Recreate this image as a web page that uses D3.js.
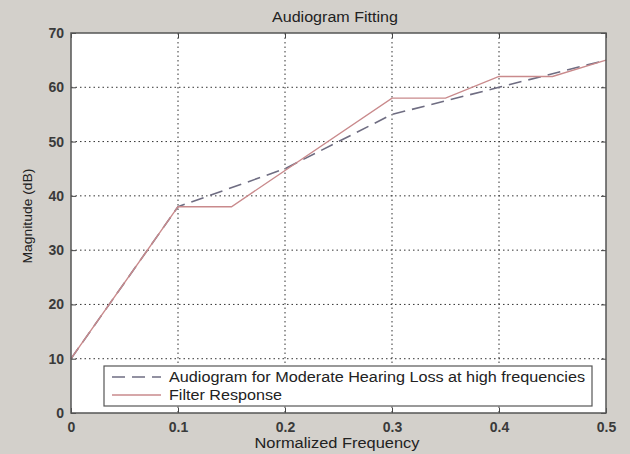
<!DOCTYPE html>
<html>
<head>
<meta charset="utf-8">
<script src="https://cdn.jsdelivr.net/npm/d3@7"></script>
<style>
  body { margin: 0; background: #d3d0cb; }
  svg { display: block; font-family: "Liberation Sans", Arial, sans-serif; }
</style>
</head>
<body>
<div id="chart"></div>
<script>
const xTicks = [0, 0.1, 0.2, 0.3, 0.4, 0.5];
const yTicks = [0, 10, 20, 30, 40, 50, 60, 70];

const audiogramFreq = [0, 0.1, 0.2, 0.3, 0.4, 0.5];
const audiogramDb = [10, 38, 45, 55, 60, 65];

const filterFreq = [0, 0.1, 0.15, 0.3, 0.35, 0.4, 0.45, 0.5];
const filterDb = [10, 38, 38, 58, 58, 62, 62, 65];

const seriesNames = ["Audiogram for Moderate Hearing Loss at high frequencies", "Filter Response"];

const W = 630, H = 454;
const margin = { top: 33, right: 24, bottom: 41, left: 71 },
  width = W - margin.left - margin.right,
  height = H - margin.top - margin.bottom;

const svg = d3.select("#chart").append("svg").attr("width", W).attr("height", H);
svg.append("rect").attr("width", W).attr("height", H).attr("fill", "#d3d0cb");

const g = svg.append("g").attr("transform", `translate(${margin.left},${margin.top})`);

const x = d3.scaleLinear().domain([0, 0.5]).range([0, width]);
const y = d3.scaleLinear().domain([0, 70]).range([height, 0]);

g.append("rect").attr("width", width).attr("height", height).attr("fill", "#fff");

// grid
g.selectAll(".vgrid").data(xTicks.slice(1, -1)).enter().append("line")
  .attr("x1", d => x(d)).attr("x2", d => x(d)).attr("y1", 0).attr("y2", height)
  .attr("stroke", "#333").attr("stroke-width", 1).attr("stroke-dasharray", "1.5,3");
g.selectAll(".hgrid").data(yTicks.slice(1, -1)).enter().append("line")
  .attr("y1", d => y(d)).attr("y2", d => y(d)).attr("x1", 0).attr("x2", width)
  .attr("stroke", "#333").attr("stroke-width", 1).attr("stroke-dasharray", "1.5,3");

const line = d3.line().x(d => x(d[0])).y(d => y(d[1]));

g.append("path")
  .datum(audiogramFreq.map((f, i) => [f, audiogramDb[i]]))
  .attr("d", line).attr("fill", "none")
  .attr("stroke", "#6f6d82").attr("stroke-width", 1.6).attr("stroke-dasharray", "13,7");

g.append("path")
  .datum(filterFreq.map((f, i) => [f, filterDb[i]]))
  .attr("d", line).attr("fill", "none")
  .attr("stroke", "#c98a8c").attr("stroke-width", 1.4);

// axes (ticks inward, mirrored)
const tickColor = "#444";
g.append("g").attr("transform", `translate(0,${height})`)
  .call(d3.axisBottom(x).tickValues(xTicks).tickSize(-5).tickPadding(9).tickFormat(d => d === 0 ? "0" : d3.format(".1f")(d)));
g.append("g")
  .call(d3.axisLeft(y).tickValues(yTicks).tickSize(-5).tickPadding(7));
g.append("g").call(d3.axisTop(x).tickValues(xTicks).tickSize(-5).tickFormat(""));
g.append("g").attr("transform", `translate(${width},0)`)
  .call(d3.axisRight(y).tickValues(yTicks).tickSize(-5).tickFormat(""));

g.selectAll(".domain").remove();
g.selectAll(".tick line").attr("stroke", tickColor);
g.selectAll(".tick text").attr("fill", "#3a3a3a").style("font-size", "14px").style("font-weight", "bold");

g.append("rect").attr("width", width).attr("height", height)
  .attr("fill", "none").attr("stroke", "#555").attr("stroke-width", 1.5);

// legend
const lg = g.append("g").attr("transform", `translate(${104 - margin.left},${366 - margin.top})`);
lg.append("rect").attr("width", 488).attr("height", 40)
  .attr("fill", "#fff").attr("stroke", "#555").attr("stroke-width", 1.2);
const legendStyles = [
  { stroke: "#6f6d82", dash: "13,7", w: 1.6, len: 416 },
  { stroke: "#c98a8c", dash: null, w: 1.4, len: 113 }
];
seriesNames.forEach((name, i) => {
  const row = lg.append("g").attr("transform", `translate(0,${11 + i * 18})`);
  row.append("line").attr("x1", 8).attr("x2", 57).attr("y1", 0).attr("y2", 0)
    .attr("stroke", legendStyles[i].stroke).attr("stroke-width", legendStyles[i].w)
    .attr("stroke-dasharray", legendStyles[i].dash);
  row.append("text").attr("x", 65).attr("y", 5).attr("fill", "#222")
    .attr("textLength", legendStyles[i].len).attr("lengthAdjust", "spacingAndGlyphs")
    .style("font-size", "14px").text(name);
});

// titles
svg.append("text").attr("x", 335).attr("y", 22)
  .attr("text-anchor", "middle").attr("fill", "#222").style("font-size", "14px")
  .attr("textLength", 126).attr("lengthAdjust", "spacingAndGlyphs").text("Audiogram Fitting");
svg.append("text").attr("x", 337).attr("y", 448)
  .attr("text-anchor", "middle").attr("fill", "#222").style("font-size", "14px")
  .attr("textLength", 165).attr("lengthAdjust", "spacingAndGlyphs").text("Normalized Frequency");
svg.append("text").attr("transform", `translate(32,216) rotate(-90)`)
  .attr("text-anchor", "middle").attr("fill", "#222").style("font-size", "13px")
  .attr("textLength", 95).attr("lengthAdjust", "spacingAndGlyphs").text("Magnitude (dB)");
</script>
</body>
</html>
